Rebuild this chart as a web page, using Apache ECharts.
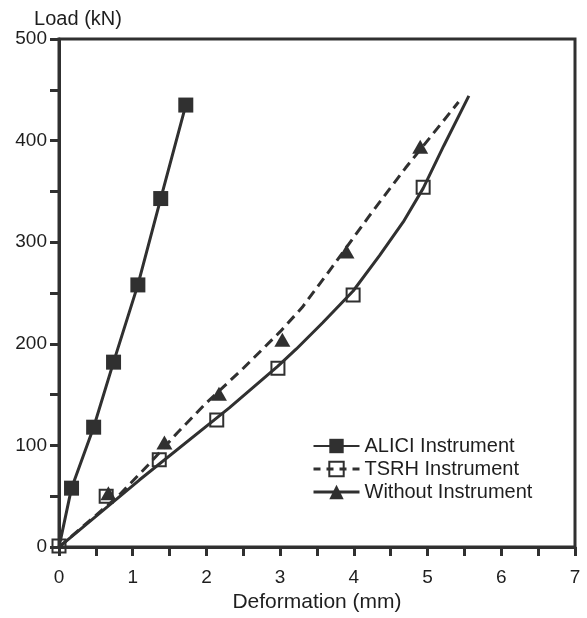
<!DOCTYPE html>
<html>
<head>
<meta charset="utf-8">
<script src="https://cdn.jsdelivr.net/npm/echarts@6/dist/echarts.min.js"></script>
<style>
html,body{margin:0;padding:0;background:#fff;}
#chart{width:587px;height:618px;}
</style>
</head>
<body>
<div id="chart"></div>
<script>
// ---- data ----
const seriesNames = ['ALICI Instrument', 'TSRH Instrument', 'Without Instrument'];

const aliciX = [0, 0.17, 0.47, 0.74, 1.07, 1.38, 1.72];
const aliciY = [0, 58, 118, 182, 258, 343, 435];

const tsrhX = [0, 0.64, 1.36, 2.14, 2.97, 3.99, 4.94];
const tsrhY = [1, 50, 86, 125, 176, 248, 354];

const withoutX = [0.67, 1.43, 2.17, 3.03, 3.90, 4.90];
const withoutY = [53, 103, 151, 204, 291, 394];

// fitted curves drawn in the reference
const solidFitX = [0, 1.09, 2.31, 2.97, 3.22, 3.58, 3.99, 4.35, 4.67, 4.94, 5.22, 5.56];
const solidFitY = [0, 66, 137, 178, 195, 221, 252, 287, 320, 353, 395, 444];

const dashedFitX = [0, 0.8, 1.2, 1.6, 2.0, 2.5, 3.0, 3.3, 3.7, 4.2, 4.7, 5.42];
const dashedFitY = [0, 50, 80, 112, 142, 176, 212, 236, 275, 325, 373, 438];

const xTickLabels = [0, 1, 2, 3, 4, 5, 6, 7];
const yTickLabels = [0, 100, 200, 300, 400, 500];

const zip = (xs, ys) => xs.map((x, i) => [x, ys[i]]);
const ink = '#303030';
const font = '"Liberation Sans", Arial, Helvetica, sans-serif';

const chart = echarts.init(document.getElementById('chart'), null, {renderer: 'canvas'});
chart.setOption({
  backgroundColor: '#ffffff',
  animation: false,
  grid: {
    left: 59, top: 39, right: 12, bottom: 67,
    show: true, borderColor: ink, borderWidth: 3, backgroundColor: 'transparent'
  },
  xAxis: {
    type: 'value', min: 0, max: 7, interval: 0.5,
    name: 'Deformation (mm)', nameLocation: 'middle', nameGap: 43,
    nameTextStyle: {color: '#1e1e1e', fontSize: 21, fontFamily: font},
    axisLine: {show: true, lineStyle: {color: ink, width: 3}},
    axisTick: {show: true, inside: false, length: 9, lineStyle: {color: ink, width: 3}},
    axisLabel: {
      color: '#1e1e1e', fontSize: 19, fontFamily: font, margin: 21,
      formatter: v => xTickLabels.includes(v) ? String(v) : ''
    },
    splitLine: {show: false}
  },
  yAxis: {
    type: 'value', min: 0, max: 500, interval: 50,
    name: 'Load (kN)', nameLocation: 'end', nameGap: 9,
    nameTextStyle: {color: '#1e1e1e', fontSize: 20, fontFamily: font, align: 'center', padding: [0, 0, 0, 38]},
    axisLine: {show: true, lineStyle: {color: ink, width: 3}},
    axisTick: {show: true, inside: false, length: 9, lineStyle: {color: ink, width: 3}},
    axisLabel: {
      color: '#1e1e1e', fontSize: 19, fontFamily: font, margin: 12,
      formatter: v => yTickLabels.includes(v) ? String(v) : ''
    },
    splitLine: {show: false}
  },
  legend: {
    orient: 'vertical', left: 307, top: 431,
    itemWidth: 46, itemHeight: 18, itemGap: 3,
    textStyle: {color: '#1e1e1e', fontSize: 20, fontFamily: font},
    data: [
      {name: seriesNames[0]},
      {name: seriesNames[1], lineStyle: {type: [7, 6], width: 3, color: ink, opacity: 1}},
      {name: seriesNames[2], lineStyle: {type: 'solid', width: 3, color: ink, opacity: 1}}
    ]
  },
  series: [
    {
      name: 'solid fit', type: 'line', data: zip(solidFitX, solidFitY),
      showSymbol: false, smooth: false,
      lineStyle: {color: ink, width: 3}, z: 2, silent: true
    },
    {
      name: 'dashed fit', type: 'line', data: zip(dashedFitX, dashedFitY),
      showSymbol: false, smooth: false,
      lineStyle: {color: ink, width: 3, type: [10, 6]}, z: 2, silent: true
    },
    {
      name: seriesNames[0], type: 'line',
      data: zip(aliciX, aliciY).map((p, i) => i === 0 ? {value: p, symbol: 'none'} : p),
      symbol: 'rect', symbolSize: 15,
      itemStyle: {color: ink}, lineStyle: {color: ink, width: 3}, z: 3
    },
    {
      name: seriesNames[1], type: 'line', data: zip(tsrhX, tsrhY),
      symbol: 'rect', symbolSize: 13,
      itemStyle: {color: 'rgba(255,255,255,0)', borderColor: ink, borderWidth: 2},
      lineStyle: {color: ink, width: 3, opacity: 0}, z: 4
    },
    {
      name: seriesNames[2], type: 'line', data: zip(withoutX, withoutY),
      symbol: 'triangle', symbolSize: [16, 14],
      itemStyle: {color: ink},
      lineStyle: {color: ink, width: 3, opacity: 0}, z: 4
    }
  ]
});
</script>
</body>
</html>
